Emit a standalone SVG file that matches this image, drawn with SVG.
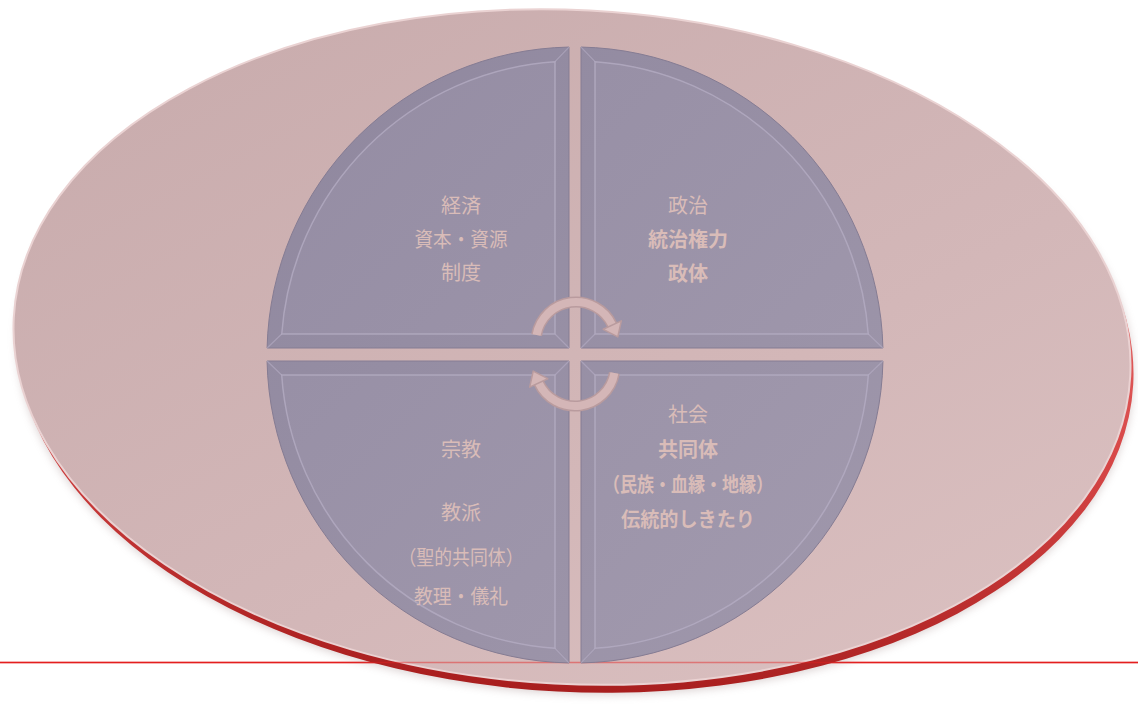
<svg xmlns="http://www.w3.org/2000/svg" width="1138" height="705" viewBox="0 0 1138 705">
<defs>
<linearGradient id="face" x1="0" y1="0" x2="1" y2="1">
<stop offset="0" stop-color="#c7aaab"/>
<stop offset="0.6" stop-color="#d3b7b8"/>
<stop offset="1" stop-color="#dcc2c2"/>
</linearGradient>
<linearGradient id="rim" x1="0" y1="0" x2="0" y2="1">
<stop offset="0" stop-color="#f08a8a"/>
<stop offset="0.6" stop-color="#d84848"/>
<stop offset="1" stop-color="#a81e1e"/>
</linearGradient>
<linearGradient id="quad" gradientUnits="userSpaceOnUse" x1="270" y1="50" x2="880" y2="660">
<stop offset="0" stop-color="#8f879e"/>
<stop offset="1" stop-color="#a098ac"/>
</linearGradient>
<linearGradient id="quadIn" gradientUnits="userSpaceOnUse" x1="270" y1="50" x2="880" y2="660">
<stop offset="0" stop-color="#948ca3"/>
<stop offset="1" stop-color="#a29aae"/>
</linearGradient>
<filter id="shadow" x="-5%" y="-5%" width="110%" height="115%">
<feGaussianBlur stdDeviation="4"/>
</filter>
<style>
.outer{fill:url(#quad);stroke:#857c93;stroke-width:1}
.inner{fill:url(#quadIn);stroke:#b6aec4;stroke-width:1.5;stroke-opacity:0.75}
.bev{stroke:#b6aec4;stroke-width:1.2;stroke-opacity:0.6;fill:none}
.t{font-family:"Noto Sans CJK JP","Noto Sans CJK SC",sans-serif;font-size:20px;fill:#d9bcb8;text-anchor:middle}
.b{font-weight:bold}
.arcOut{fill:none;stroke:#b99b9e;stroke-width:11}
.arcIn{fill:none;stroke:#d4b6b7;stroke-width:8}
.head{fill:#d4b6b7;stroke:#b99b9e;stroke-width:1.5;stroke-linejoin:round}
</style>
</defs>
<rect width="1138" height="705" fill="#ffffff"/>
<line x1="0" y1="662.5" x2="1138" y2="662.5" stroke="#e41e1e" stroke-width="1.6"/>
<g id="plate">
<ellipse cx="575" cy="357" rx="559" ry="337" transform="rotate(3 575 357)" fill="#9a8080" opacity="0.35" filter="url(#shadow)"/>
<ellipse cx="575" cy="355" rx="559" ry="337" transform="rotate(3 575 355)" fill="url(#rim)"/>
<ellipse cx="572" cy="347" rx="559" ry="337" transform="rotate(3 572 347)" fill="url(#face)" stroke="#ead2d2" stroke-width="2"/>
</g>
<line x1="0" y1="662.5" x2="1138" y2="662.5" stroke="#e41e1e" stroke-width="1.4" stroke-opacity="0.45"/>
<g id="q-economy">
<path class="outer" d="M569,348 L267.08,348 A308,308 0 0 1 569,47.06 Z"/>
<path class="inner" d="M555,334 L281.75,334 A294,294 0 0 1 555,61.68 Z"/>
<path class="bev" d="M569,348 L555,334 M267.08,348 L281.75,334 M569,47.06 L555,61.68"/>
<text class="t" x="461" y="213">経済</text>
<text class="t" x="461" y="247" textLength="93" lengthAdjust="spacingAndGlyphs">資本・資源</text>
<text class="t" x="461" y="280">制度</text>
</g>
<g id="q-politics">
<path class="outer" d="M581,348 L581,47.06 A308,308 0 0 1 882.92,348 Z"/>
<path class="inner" d="M595,334 L595,61.68 A294,294 0 0 1 868.25,334 Z"/>
<path class="bev" d="M581,348 L595,334 M581,47.06 L595,61.68 M882.92,348 L868.25,334"/>
<text class="t" x="688" y="213">政治</text>
<text class="t b" x="688" y="247">統治権力</text>
<text class="t b" x="688" y="281">政体</text>
</g>
<g id="q-religion">
<path class="outer" d="M569,361 L569,662.94 A308,308 0 0 1 267.06,361 Z"/>
<path class="inner" d="M555,375 L555,648.32 A294,294 0 0 1 281.68,375 Z"/>
<path class="bev" d="M569,361 L555,375 M569,662.94 L555,648.32 M267.06,361 L281.68,375"/>
<text class="t" x="461" y="457">宗教</text>
<text class="t" x="461" y="520">教派</text>
<text class="t" x="461" y="565" textLength="125" lengthAdjust="spacingAndGlyphs">（聖的共同体）</text>
<text class="t" x="461" y="604" textLength="94" lengthAdjust="spacingAndGlyphs">教理・儀礼</text>
</g>
<g id="q-society">
<path class="outer" d="M581,361 L882.94,361 A308,308 0 0 1 581,662.94 Z"/>
<path class="inner" d="M595,375 L868.32,375 A294,294 0 0 1 595,648.32 Z"/>
<path class="bev" d="M581,361 L595,375 M882.94,361 L868.32,375 M581,662.94 L595,648.32"/>
<text class="t" x="688" y="422">社会</text>
<text class="t b" x="688" y="457">共同体</text>
<text class="t b" x="688" y="492" textLength="170" lengthAdjust="spacingAndGlyphs">（民族・血縁・地縁）</text>
<text class="t b" x="688" y="527" textLength="134" lengthAdjust="spacingAndGlyphs">伝統的しきたり</text>
</g>
<g id="connectors">
<path class="arcOut" d="M536.6,335 A40,40 0 0 1 612.25,325.1"/>
<path class="arcIn" d="M536.6,335 A40,40 0 0 1 612.25,325.1"/>
<path class="head" d="M621.3,320.9 L617.8,336.9 L603.2,329.3 Z"/>
<path class="arcOut" d="M614.4,373 A40,40 0 0 1 538.75,382.9"/>
<path class="arcIn" d="M614.4,373 A40,40 0 0 1 538.75,382.9"/>
<path class="head" d="M529.7,387.1 L533.2,371.1 L547.8,378.7 Z"/>
</g>
</svg>
